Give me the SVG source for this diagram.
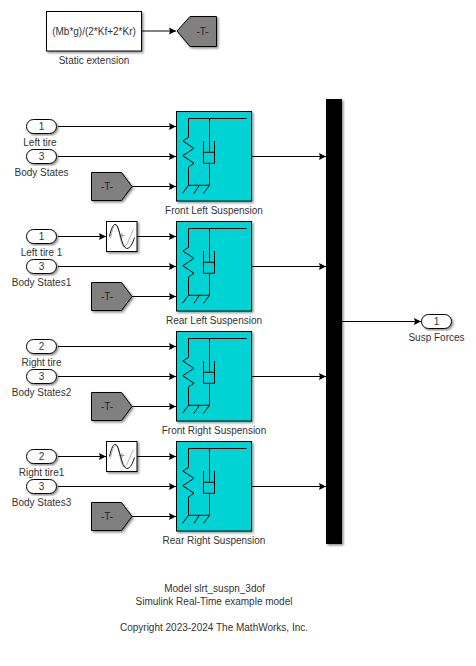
<svg xmlns="http://www.w3.org/2000/svg" xmlns:xlink="http://www.w3.org/1999/xlink" width="476" height="666" viewBox="0 0 476 666">
<style>
text{font-family:"Liberation Sans",Arial,sans-serif;font-size:10px;fill:#333;text-anchor:middle}
.b{stroke:#000;stroke-width:1;fill:#fff;filter:url(#s)}
.c{fill:none;stroke:#000;stroke-width:1}
.g{fill:#808080}
.t{fill:#222}
.k{fill:none;stroke:#000;stroke-width:1}
</style>
<defs>
<filter id="s" x="-10%" y="-10%" width="125%" height="125%"><feDropShadow dx="1.5" dy="1.5" stdDeviation="1" flood-color="#000" flood-opacity="0.45"/></filter>
<marker id="a" markerUnits="userSpaceOnUse" markerWidth="8" markerHeight="8" refX="7" refY="4" orient="auto"><path d="M0 0.500L7 4L0 7.500L1 4Z" fill="#000"/></marker>
<g id="susp">
<rect class="b" x="0" y="0" width="75" height="89.500" style="fill:#00d3d3"/>
<path class="k" d="M70 7H12V25.800L6.300 29.500L17.500 36.800L6.300 44.200L17.500 51.800L12 55.500V73.800H33M33 7V40.800M33 51.800V73.800M27 29.500V51.800H38V29.500M27 40.800H38M12 73.800L6 81.800M22.800 73.800L17.500 81.800M33 73.800L27 81.800"/>
</g>
<g id="lut">
<rect class="b" x="0" y="0" width="30.500" height="30"/>
<path d="M4 17C6 6 8 3 10 4C13 6 14 24 17 25C21 26 23 15 27 8" fill="none" stroke="#b0b0b0"/>
<path d="M13 14H18M15.500 11.500V16.500" stroke="#999" fill="none"/>
<path d="M3 15C5 6 7 2 9.500 3C13 5 15 26 20 27C24 27 26 22 28 16" fill="none" stroke="#111"/>
</g>
</defs>
<g id="connectors">
<path class="c" marker-end="url(#a)" d="M142 31H176"/>
<path class="c" marker-end="url(#a)" d="M58 126.500H176"/>
<path class="c" marker-end="url(#a)" d="M58 156.500H176"/>
<path class="c" marker-end="url(#a)" d="M132 186.500H176"/>
<path class="c" marker-end="url(#a)" d="M252 156.500H326"/>
<path class="c" marker-end="url(#a)" d="M58 236.500H106"/>
<path class="c" marker-end="url(#a)" d="M137 236.500H176"/>
<path class="c" marker-end="url(#a)" d="M58 266.500H176"/>
<path class="c" marker-end="url(#a)" d="M132 296.500H176"/>
<path class="c" marker-end="url(#a)" d="M252 266.500H326"/>
<path class="c" marker-end="url(#a)" d="M58 346.500H176"/>
<path class="c" marker-end="url(#a)" d="M58 376.500H176"/>
<path class="c" marker-end="url(#a)" d="M132 406.500H176"/>
<path class="c" marker-end="url(#a)" d="M252 376.500H326"/>
<path class="c" marker-end="url(#a)" d="M58 456.500H106"/>
<path class="c" marker-end="url(#a)" d="M137 456.500H176"/>
<path class="c" marker-end="url(#a)" d="M58 486.500H176"/>
<path class="c" marker-end="url(#a)" d="M132 516.500H176"/>
<path class="c" marker-end="url(#a)" d="M252 486.500H326"/>
<path class="c" marker-end="url(#a)" d="M342 321.500H421"/>
</g>
<g id="static"><rect class="b" x="46.500" y="11.500" width="95" height="39.500"/><text x="94" y="34.500">(Mb*g)/(2*Kf+2*Kr)</text><text x="94" y="64">Static extension</text></g>
<g id="goto0"><path class="b g" d="M177 31L190 16.500H216.500V46.500H190Z"/><text class="t" x="202.500" y="34.500">-T-</text></g>
<g id="s1"><use xlink:href="#susp" x="176.500" y="111.500"/><text x="214" y="214">Front Left Suspension</text></g>
<g id="s2"><use xlink:href="#susp" x="176.500" y="221.500"/><text x="214" y="324">Rear Left Suspension</text></g>
<g id="s3"><use xlink:href="#susp" x="176.500" y="331.500"/><text x="214" y="434">Front Right Suspension</text></g>
<g id="s4"><use xlink:href="#susp" x="176.500" y="441.500"/><text x="214" y="544">Rear Right Suspension</text></g>
<g id="l1"><use xlink:href="#lut" x="106.500" y="221.500"/></g>
<g id="l2"><use xlink:href="#lut" x="106.500" y="441.500"/></g>
<g id="p1"><rect class="b" x="26.500" y="119.500" width="30" height="14" rx="7"/><text x="41.500" y="130">1</text><text x="40" y="146">Left tire</text></g>
<g id="p2"><rect class="b" x="26.500" y="149.500" width="30" height="14" rx="7"/><text x="41.500" y="160">3</text><text x="41.500" y="176">Body States</text></g>
<g id="p3"><rect class="b" x="26.500" y="229.500" width="30" height="14" rx="7"/><text x="41.500" y="240">1</text><text x="41.500" y="256">Left tire 1</text></g>
<g id="p4"><rect class="b" x="26.500" y="259.500" width="30" height="14" rx="7"/><text x="41.500" y="270">3</text><text x="41.500" y="286">Body States1</text></g>
<g id="p5"><rect class="b" x="26.500" y="339.500" width="30" height="14" rx="7"/><text x="41.500" y="350">2</text><text x="41.500" y="366">Right tire</text></g>
<g id="p6"><rect class="b" x="26.500" y="369.500" width="30" height="14" rx="7"/><text x="41.500" y="380">3</text><text x="41.500" y="396">Body States2</text></g>
<g id="p7"><rect class="b" x="26.500" y="449.500" width="30" height="14" rx="7"/><text x="41.500" y="460">2</text><text x="41.500" y="476">Right tire1</text></g>
<g id="p8"><rect class="b" x="26.500" y="479.500" width="30" height="14" rx="7"/><text x="41.500" y="490">3</text><text x="41.500" y="506">Body States3</text></g>
<g id="g1"><path class="b g" d="M91.500 172.500H121.500L132 186.500L121.500 200.500H91.500Z"/><text class="t" x="107" y="190">-T-</text></g>
<g id="g2"><path class="b g" d="M91.500 282.500H121.500L132 296.500L121.500 310.500H91.500Z"/><text class="t" x="107" y="300">-T-</text></g>
<g id="g3"><path class="b g" d="M91.500 392.500H121.500L132 406.500L121.500 420.500H91.500Z"/><text class="t" x="107" y="410">-T-</text></g>
<g id="g4"><path class="b g" d="M91.500 502.500H121.500L132 516.500L121.500 530.500H91.500Z"/><text class="t" x="107" y="520">-T-</text></g>
<g id="mux"><rect x="326" y="99" width="16" height="445" fill="#000" filter="url(#s)"/></g>
<g id="out"><rect class="b" x="421.500" y="314.500" width="30" height="14" rx="7"/><text x="436.500" y="325">1</text><text x="436.500" y="341">Susp Forces</text></g>
<g id="notes"><text x="214.500" y="592">Model slrt_suspn_3dof</text><text x="214" y="605">Simulink Real-Time example model</text><text x="214" y="631">Copyright 2023-2024 The MathWorks, Inc.</text></g>
</svg>
